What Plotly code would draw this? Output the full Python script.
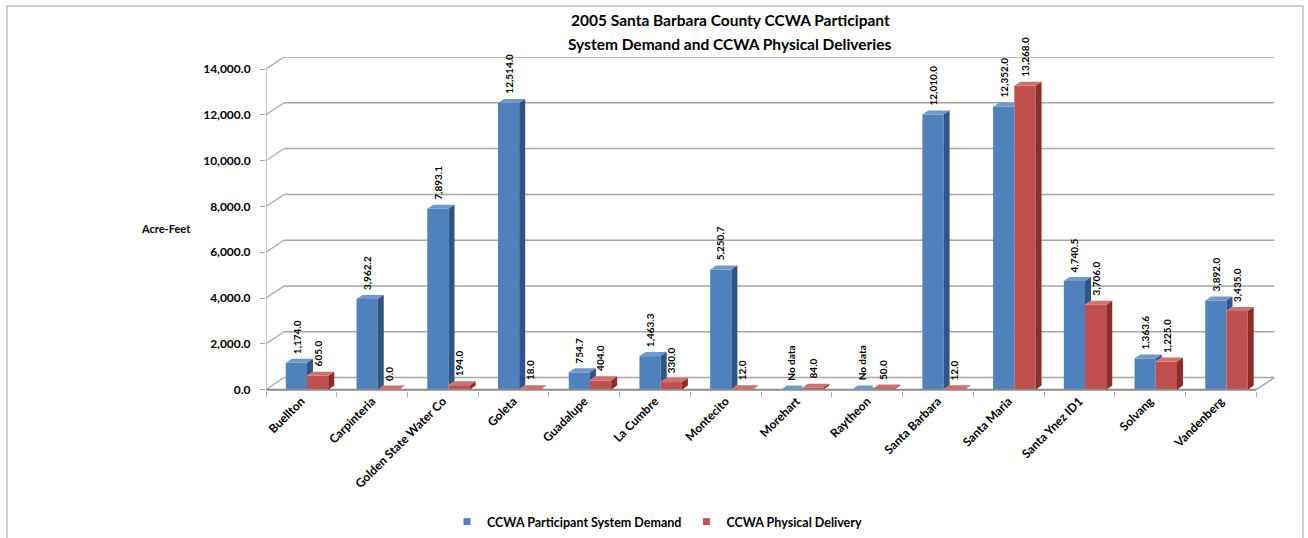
import plotly.graph_objects as go

categories = ["Buellton", "Carpinteria", "Golden State Water Co", "Goleta", "Guadalupe",
              "La Cumbre", "Montecito", "Morehart", "Raytheon", "Santa Barbara",
              "Santa Maria", "Santa Ynez ID1", "Solvang", "Vandenberg"]
demand = [1174.0, 3962.2, 7893.1, 12514.0, 754.7, 1463.3, 5250.7, None, None,
          12010.0, 12352.0, 4740.5, 1363.6, 3892.0]
delivery = [605.0, 0.0, 194.0, 18.0, 404.0, 330.0, 12.0, 84.0, 50.0,
            12.0, 13268.0, 3706.0, 1225.0, 3435.0]
y_ticks = [0, 2000, 4000, 6000, 8000, 10000, 12000, 14000]
series_names = ["CCWA Participant System Demand", "CCWA Physical Delivery"]
title_lines = ["2005 Santa Barbara County CCWA Participant",
               "System Demand and CCWA Physical Deliveries"]
y_title = "Acre-Feet"

FONT = "Lato, Carlito, Liberation Sans, Arial, sans-serif"
BLUE, BLUE_SIDE, BLUE_TOP = "#4F81BD", "#2F5486", "#6F98CC"
RED, RED_SIDE, RED_TOP = "#C0504D", "#8A2E2C", "#D26F6C"
GRID = "#A6A6A6"

FIG_W, FIG_H = 1308, 538
ML, MR, MT, MB = 266, 32, 57, 147

W = 0.30        # bar width (category units)
SX = 0.08       # shift of bar pair (3D floor offset)
DX, DY = 0.085, 175      # bar depth
WX, WY = 0.255, 525      # wall depth

xs = list(range(len(categories)))
n = len(categories)
dem_plot = [v if v is not None else 0.0 for v in demand]

fig = go.Figure()
fig.add_trace(go.Bar(x=xs, y=dem_plot, width=W, offset=SX - W, name=series_names[0],
                     marker=dict(color=BLUE, line=dict(width=0)), showlegend=False))
fig.add_trace(go.Bar(x=xs, y=delivery, width=W, offset=SX, name=series_names[1],
                     marker=dict(color=RED, line=dict(width=0)), showlegend=False))
for nm, col in zip(series_names, [BLUE, RED]):
    fig.add_trace(go.Scatter(x=[None], y=[None], mode="markers", name=f"<b>{nm}</b>",
                             marker=dict(symbol="square", size=7, color=col)))

shapes = []
for v in y_ticks:
    shapes.append(dict(type="line", xref="x", yref="y", x0=-0.5 + WX, x1=n - 0.5 + WX,
                       y0=v + WY, y1=v + WY, line=dict(color=GRID, width=1.5), layer="below"))
    shapes.append(dict(type="line", xref="x", yref="y", x0=-0.5, x1=-0.5 + WX,
                       y0=v, y1=v + WY, line=dict(color=GRID, width=1.2), layer="below"))
shapes.append(dict(type="line", xref="x", yref="y", x0=n - 0.5, x1=n - 0.5 + WX, y0=0, y1=WY,
                   line=dict(color=GRID, width=1.5), layer="below"))
shapes.append(dict(type="line", xref="x", yref="y", x0=-0.5, x1=-0.5, y0=0, y1=14000,
                   line=dict(color=GRID, width=1.2), layer="below"))
shapes.append(dict(type="line", xref="x", yref="y", x0=-0.5, x1=n - 0.5, y0=0, y1=0,
                   line=dict(color="#8C8C8C", width=2), layer="above"))


def poly(pts, color):
    p = "M " + " L ".join(f"{a},{b}" for a, b in pts) + " Z"
    return dict(type="path", xref="x", yref="y", path=p, fillcolor=color,
                line=dict(width=0), layer="above")


for i in xs:
    b = dem_plot[i]
    r = delivery[i]
    bx0, bx1 = i + SX - W, i + SX
    rx0, rx1 = i + SX, i + SX + W
    if r > b:
        shapes.append(poly([(bx0, b), (bx1, b), (bx1, b + DY), (bx0 + DX, b + DY)], BLUE_TOP))
    else:
        shapes.append(poly([(bx0, b), (bx1, b), (bx1 + DX, b + DY), (bx0 + DX, b + DY)], BLUE_TOP))
        if b > r:
            shapes.append(poly([(bx1, r), (bx1, b), (bx1 + DX, b + DY), (bx1 + DX, r + DY)], BLUE_SIDE))
    if r > 0:
        shapes.append(poly([(rx1, 0), (rx1, r), (rx1 + DX, r + DY), (rx1 + DX, DY)], RED_SIDE))
    shapes.append(poly([(rx0, r), (rx1, r), (rx1 + DX, r + DY), (rx0 + DX, r + DY)], RED_TOP))

PW = FIG_W - ML - MR
PH = FIG_H - MT - MB


def px_to_paper(px, py):
    return (px - ML) / PW, (FIG_H - MB - py) / PH


bx0p, by1p = px_to_paper(7, 6)
bx1p, by0p = px_to_paper(1303, 560)
shapes.append(dict(type="rect", xref="paper", yref="paper", x0=bx0p, x1=bx1p, y0=by0p, y1=by1p,
                   line=dict(color="#BFBFBF", width=1.5), fillcolor="rgba(0,0,0,0)", layer="below"))

annotations = []
for i in xs:
    dv = demand[i]
    dtxt = "No data" if dv is None else f"{dv:,.1f}"
    annotations.append(dict(x=i + SX - W / 2, y=dem_plot[i], xref="x", yref="y", text=f"<b>{dtxt}</b>",
                            textangle=-90, showarrow=False, xanchor="center", yanchor="bottom",
                            yshift=7, font=dict(family=FONT, size=10, color="black")))
    annotations.append(dict(x=i + SX + W / 2, y=delivery[i], xref="x", yref="y",
                            text=f"<b>{delivery[i]:,.1f}</b>",
                            textangle=-90, showarrow=False, xanchor="center", yanchor="bottom",
                            yshift=7, font=dict(family=FONT, size=10, color="black")))

for txt, py in zip(title_lines, [20, 44]):
    ax, ay = px_to_paper(730, py)
    annotations.append(dict(x=ax, y=ay, xref="paper", yref="paper", text=f"<b>{txt}</b>",
                            showarrow=False, xanchor="center", yanchor="middle",
                            font=dict(family=FONT, size=15.5, color="black")))
ax, ay = px_to_paper(166, 228)
annotations.append(dict(x=ax, y=ay, xref="paper", yref="paper", text=f"<b>{y_title}</b>",
                        showarrow=False, xanchor="center", yanchor="middle",
                        font=dict(family=FONT, size=11, color="black")))

lx, ly = px_to_paper(657, 522)
fig.update_layout(
    width=FIG_W, height=FIG_H,
    margin=dict(l=ML, r=MR, t=MT, b=MB, autoexpand=False),
    paper_bgcolor="white", plot_bgcolor="white",
    barmode="overlay",
    showlegend=True,
    legend=dict(orientation="h", x=lx, xanchor="center", y=ly, yanchor="middle",
                font=dict(family=FONT, size=12.5, color="black"), itemwidth=30,
                bgcolor="rgba(0,0,0,0)"),
    shapes=shapes,
    annotations=annotations,
    font=dict(family=FONT, color="black"),
)

fig.update_xaxes(range=[-0.5, n - 0.5 + 0.28], tickmode="array", tickvals=xs,
                 ticktext=[f"<b>{c}</b>" for c in categories], tickangle=-45,
                 tickfont=dict(family=FONT, size=12, color="black"),
                 showgrid=False, zeroline=False, showline=False, ticks="", automargin=False,
                 minor=dict(tickmode="array", tickvals=[i - 0.5 for i in range(n + 1)],
                            ticks="outside", ticklen=5, tickcolor=GRID, showgrid=False))
fig.update_yaxes(range=[-60, 14000 + WY], tickmode="array", tickvals=y_ticks,
                 ticktext=[f"<b>{v:,.1f}</b>" for v in y_ticks],
                 tickfont=dict(family=FONT, size=12, color="black"),
                 showgrid=False, zeroline=False, showline=False, automargin=False,
                 ticks="outside", ticklen=5, tickcolor=GRID, ticklabelstandoff=7)

fig.write_html("out.html", config={"displayModeBar": False},
               post_script="document.body.style.margin='0px';document.body.style.overflow='hidden';")
